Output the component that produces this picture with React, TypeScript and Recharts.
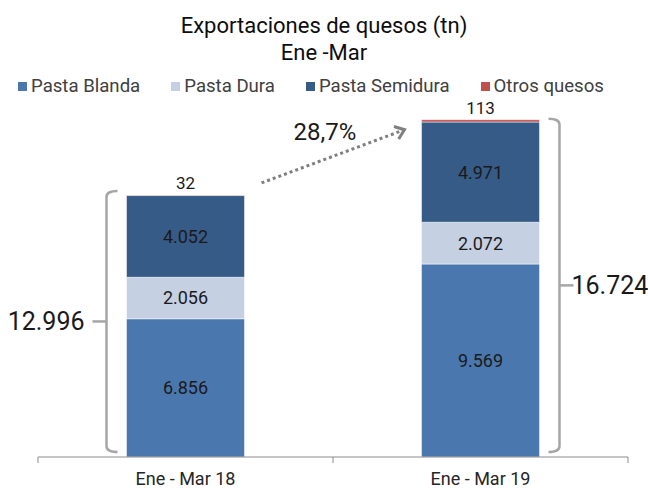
import { Bar, BarChart, LabelList, Legend, XAxis, YAxis } from "recharts";

const categories = ["Ene - Mar 18", "Ene - Mar 19"];
const pastaBlanda = [6856, 9569];
const pastaDura = [2056, 2072];
const pastaSemidura = [4052, 4971];
const otrosQuesos = [32, 113];
const totalLabels = [12996, 16724];
const growthLabel = "28,7%";

const series = [
  { key: "blanda", name: "Pasta Blanda", color: "#4a77ae", values: pastaBlanda },
  { key: "dura", name: "Pasta Dura", color: "#c5d0e3", values: pastaDura },
  { key: "semidura", name: "Pasta Semidura", color: "#365b87", values: pastaSemidura },
  { key: "otros", name: "Otros quesos", color: "#c0504d", values: otrosQuesos },
];

const data = categories.map((label, i) => ({
  label,
  blanda: pastaBlanda[i],
  dura: pastaDura[i],
  semidura: pastaSemidura[i],
  otros: otrosQuesos[i],
}));

const stackTotals = categories.map((_, i) => series.reduce((s, d) => s + d.values[i], 0));

const FONT = "Roboto, 'Noto Sans', sans-serif";
const BAR_GAP = 0.3;
const GREY = "#a6a6a6";

function fmt(v: number) {
  return String(Math.round(v)).replace(/\B(?=(\d{3})+(?!\d))/g, ".");
}

function CategoryTick(props: any) {
  const { x, y, payload, index } = props;
  const half = payload && typeof payload.offset === "number" && payload.offset > 0 ? payload.offset : 147.5;
  return (
    <g>
      <line x1={x - half} x2={x - half} y1={y - 17} y2={y - 11} stroke="#8c8c8c" />
      {index === categories.length - 1 ? (
        <line x1={x + half} x2={x + half} y1={y - 17} y2={y - 11} stroke="#8c8c8c" />
      ) : null}
      <text x={x} y={y + 11} textAnchor="middle" fontSize={18} fill="#262626" fontFamily={FONT}>
        {payload.value}
      </text>
    </g>
  );
}

function OtrosLabel(props: any) {
  const vb = props.viewBox && props.viewBox.width !== undefined ? props.viewBox : props;
  const x = Number(vb.x);
  const y = Number(vb.y);
  const w = Number(vb.width);
  const h = Number(vb.height);
  const value = Number(props.value);
  const i = typeof props.index === "number" ? props.index : otrosQuesos.indexOf(value);
  const ppu = h / value;
  const bottom = y + stackTotals[i] * ppu;
  const top = y - (i === 0 ? 4 : 1);
  const b = bottom - 5;
  const mid = (top + b) / 2;
  const left = i === 0;
  const bx = left ? x - 20 : x + w + 20;
  const dir = left ? 1 : -1;
  const brace = `M ${bx + dir * 11} ${top} Q ${bx} ${top} ${bx} ${top + 6} L ${bx} ${b - 6} Q ${bx} ${b} ${bx + dir * 11} ${b}`;
  const tip = `M ${bx} ${mid} L ${bx - dir * 14} ${mid}`;

  let arrow = null;
  if (i === 0) {
    const band = w / (1 - 2 * BAR_GAP);
    const y2 = bottom - stackTotals[1] * ppu;
    const sx = x + w + 17;
    const sy = y - 12;
    const ex = x + band - 17;
    const ey = y2 + 10;
    const ang = Math.atan2(ey - sy, ex - sx);
    const arm = 11;
    const a1 = ang + Math.PI - 0.65;
    const a2 = ang + Math.PI + 0.65;
    const mx = (sx + ex) / 2;
    const my = (sy + ey) / 2;
    arrow = (
      <g>
        <line x1={sx} y1={sy} x2={ex - 3 * Math.cos(ang)} y2={ey - 3 * Math.sin(ang)} stroke="#7f7f7f" strokeWidth={3} strokeDasharray="3 3" />
        <path
          d={`M ${ex + arm * Math.cos(a1)} ${ey + arm * Math.sin(a1)} L ${ex} ${ey} L ${ex + arm * Math.cos(a2)} ${ey + arm * Math.sin(a2)}`}
          fill="none"
          stroke="#7f7f7f"
          strokeWidth={3}
        />
        <text x={mx - 8} y={my - 24} textAnchor="middle" dominantBaseline="central" fontSize={24} fill="#1a1a1a" fontFamily={FONT}>
          {growthLabel}
        </text>
      </g>
    );
  }

  return (
    <g>
      <text x={x + w / 2} y={y - 6} textAnchor="middle" fontSize={17} fill="#1a1a1a" fontFamily={FONT}>
        {fmt(value)}
      </text>
      <path d={brace} fill="none" stroke={GREY} strokeWidth={2.5} />
      <path d={tip} fill="none" stroke={GREY} strokeWidth={2.5} />
      <text
        x={left ? bx - 22 : bx + 12}
        y={mid}
        textAnchor={left ? "end" : "start"}
        dominantBaseline="central"
        fontSize={25}
        fill="#1a1a1a"
        fontFamily={FONT}
      >
        {fmt(totalLabels[i])}
      </text>
      {arrow}
    </g>
  );
}

function LegendRow() {
  return (
    <div style={{ display: "flex", gap: 31, fontFamily: FONT, fontSize: 18.6, color: "#404040", lineHeight: "20px" }}>
      {series.map((s) => (
        <div key={s.key} style={{ display: "flex", alignItems: "center" }}>
          <span style={{ width: 9, height: 9, background: s.color, marginRight: 4, display: "inline-block" }} />
          <span>{s.name}</span>
        </div>
      ))}
    </div>
  );
}

export default function App() {
  return (
    <div style={{ position: "absolute", left: 0, top: 0, width: 648, height: 488, background: "#fff" }}>
      <div
        style={{
          position: "absolute",
          left: 0,
          top: 12,
          width: 648,
          textAlign: "center",
          fontFamily: FONT,
          fontSize: 22,
          lineHeight: "27px",
          color: "#0d0d0d",
        }}
      >
        <div>Exportaciones de quesos (tn)</div>
        <div>Ene -Mar</div>
      </div>
      <BarChart
        width={648}
        height={488}
        data={data}
        margin={{ top: 94, right: 20, bottom: 1, left: 38 }}
        barCategoryGap={`${BAR_GAP * 100}%`}
        style={{ position: "absolute", left: 0, top: 0 }}
      >
        <XAxis
          dataKey="label"
          height={30}
          interval={0}
          tickLine={false}
          tickSize={0}
          tickMargin={17}
          axisLine={{ stroke: "#8c8c8c" }}
          tick={<CategoryTick />}
        />
        <YAxis hide domain={[0, 18000]} />
        <Legend
          verticalAlign="middle"
          align="center"
          layout="horizontal"
          wrapperStyle={{ top: 76, left: 18, width: 628 }}
          content={() => <LegendRow />}
        />
        {series.map((s) => (
          <Bar
            key={s.key}
            dataKey={s.key}
            name={s.name}
            stackId="a"
            fill={s.color}
            stroke="#ffffff"
            strokeWidth={0.5}
            isAnimationActive={false}
          >
            {s.key === "otros" ? (
              <LabelList dataKey="otros" content={<OtrosLabel />} />
            ) : (
              <LabelList
                dataKey={s.key}
                position="center"
                formatter={(v: any) => fmt(Number(v))}
                style={{ fontSize: 18, fill: "#1a1a1a", fontFamily: FONT }}
              />
            )}
          </Bar>
        ))}
      </BarChart>
    </div>
  );
}
